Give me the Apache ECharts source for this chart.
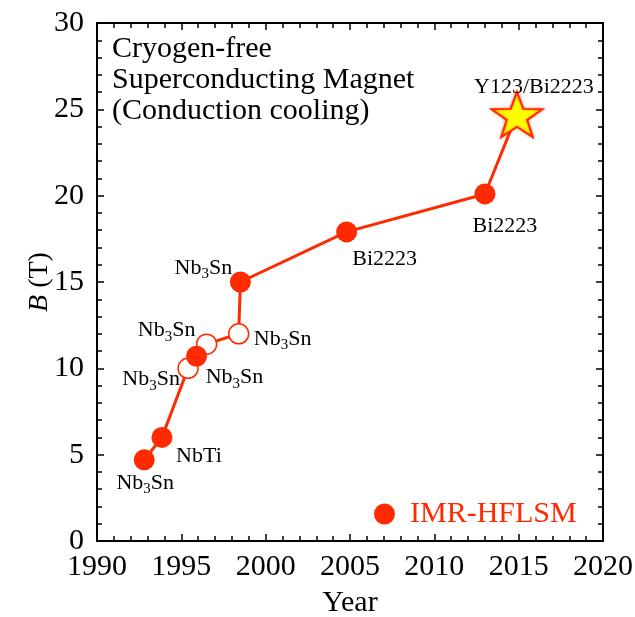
<!DOCTYPE html>
<html><head><meta charset="utf-8">
<script src="https://cdn.jsdelivr.net/npm/echarts@6/dist/echarts.min.js"></script>
<style>html,body{margin:0;padding:0;background:#fff}#c{width:635px;height:617px}</style>
</head><body><div id="c"></div>
<script>
// ---- data ----
const years     = [1992.8, 1993.85, 1995.4, 1995.9, 1996.5, 1998.4, 1998.5, 2004.8, 2013.0, 2014.9];
const fields    = [4.7, 6.0, 10.0, 10.7, 11.4, 12.0, 15.0, 17.9, 20.1, 24.7];
const kinds     = ['filled','filled','open','filled','open','open','filled','filled','filled','star'];
const materials = ['Nb3Sn','NbTi','Nb3Sn','Nb3Sn','Nb3Sn','Nb3Sn','Nb3Sn','Bi2223','Bi2223','Y123/Bi2223'];
const xTicks = { min: 1990, max: 2020, step: 5 };
const yTicks = { min: 0, max: 30, step: 5 };
const legendName = 'IMR-HFLSM';
const titleText = 'Cryogen-free\nSuperconducting Magnet\n(Conduction cooling)';

// ---- styling ----
const RED = '#ff2a00';
const FONT = '"Liberation Serif","Times New Roman",serif';
const labelOffsets = [[1,23],[37,19],[-37,11],[38,21],[-40,-14],[44,5],[-37,-14],[38,27],[20,32],[17,-27]];
function richName(m){
  if (m === 'Nb3Sn') return '{a|Nb}{s|3}{a|Sn}';
  return '{a|' + m + '}';
}
const rich = {
  a: {fontSize: 22, fontFamily: FONT, color: '#000', lineHeight: 28},
  s: {fontSize: 15, fontFamily: FONT, color: '#000', lineHeight: 6, verticalAlign: 'bottom'}
};
function starPath(){
  const p = [];
  for (let i = 0; i < 10; i++) {
    const r = i % 2 ? 0.4 : 1;
    const a = -Math.PI / 2 + i * Math.PI / 5;
    p.push((r * Math.cos(a)).toFixed(4) + ' ' + (r * Math.sin(a)).toFixed(4));
  }
  return 'path://M' + p.join(' L') + ' Z';
}
function itemsOf(kind){
  const out = [];
  years.forEach((y, i) => {
    if (kinds[i] === kind) out.push({name: materials[i], value: [y, fields[i]], label: {offset: labelOffsets[i]}});
  });
  return out;
}
const labelBase = {show: true, position: 'inside', formatter: p => richName(p.name), rich: rich};

const tickCommon = {
  axisLine: {show: true, onZero: false, lineStyle: {color: '#000', width: 2}},
  axisTick: {show: true, inside: true, length: 7, lineStyle: {color: '#000', width: 1.5}},
  minorTick: {show: true, splitNumber: 5, length: 5, lineStyle: {color: '#000', width: 1.5}},
  splitLine: {show: false}
};
const labelStyle = {fontSize: 30, fontFamily: FONT, color: '#000'};

const option = {
  animation: false,
  backgroundColor: '#fff',
  title: {text: titleText, left: 112, top: 34, padding: 0,
    textStyle: {fontSize: 30, fontWeight: 'normal', fontFamily: FONT, color: '#000', lineHeight: 31}},
  legend: {data: [legendName], left: 374, top: 499, padding: 0, icon: 'circle', itemWidth: 21, itemHeight: 21,
    selectedMode: false, textStyle: {fontSize: 30, lineHeight: 30, fontFamily: FONT, color: RED, padding: [0, 0, 0, 10]}},
  grid: {left: 97, right: 32, top: 23, bottom: 76, containLabel: false, outerBoundsMode: 'none'},
  xAxis: [
    Object.assign({type: 'value', min: xTicks.min, max: xTicks.max, interval: xTicks.step, position: 'bottom',
      axisLabel: Object.assign({margin: 11, formatter: v => String(v)}, labelStyle),
      name: 'Year', nameLocation: 'middle', nameGap: 47, nameMoveOverlap: false, nameTextStyle: labelStyle}, tickCommon),
    Object.assign({type: 'value', min: xTicks.min, max: xTicks.max, interval: xTicks.step, position: 'top',
      axisLabel: {show: false}}, tickCommon)
  ],
  yAxis: [
    Object.assign({type: 'value', min: yTicks.min, max: yTicks.max, interval: yTicks.step, position: 'left',
      axisLabel: Object.assign({margin: 13, formatter: v => String(v)}, labelStyle),
      name: '{i|B} (T)', nameLocation: 'middle', nameGap: 43, nameRotate: 90, nameMoveOverlap: false,
      nameTextStyle: {fontSize: 28, fontFamily: FONT, color: '#000',
        rich: {i: {fontStyle: 'italic', fontSize: 28, fontFamily: FONT, color: '#000'}}}}, tickCommon),
    Object.assign({type: 'value', min: yTicks.min, max: yTicks.max, interval: yTicks.step, position: 'right',
      axisLabel: {show: false}}, tickCommon)
  ],
  series: [
    {type: 'line', name: 'path', data: years.map((y, i) => [y, fields[i]]), symbol: 'none',
      lineStyle: {color: RED, width: 3}, z: 1, silent: true},
    {type: 'scatter', name: 'open', data: itemsOf('open'), symbol: 'circle', symbolSize: 20,
      itemStyle: {color: '#fff', borderColor: RED, borderWidth: 1.5, opacity: 1}, label: labelBase, z: 3},
    {type: 'scatter', name: legendName, data: itemsOf('filled'), symbol: 'circle', symbolSize: 21,
      itemStyle: {color: RED, opacity: 1}, label: labelBase, z: 4},
    {type: 'scatter', name: 'star', data: itemsOf('star'), symbol: starPath(), symbolSize: [51, 45],
      itemStyle: {color: '#ffff00', borderColor: RED, borderWidth: 2, shadowBlur: 3, shadowColor: 'rgba(255,40,0,0.5)', opacity: 1},
      label: labelBase, z: 5}
  ]
};
const chart = echarts.init(document.getElementById('c'), null, {renderer: 'canvas'});
chart.setOption(option);
</script>
</body></html>
